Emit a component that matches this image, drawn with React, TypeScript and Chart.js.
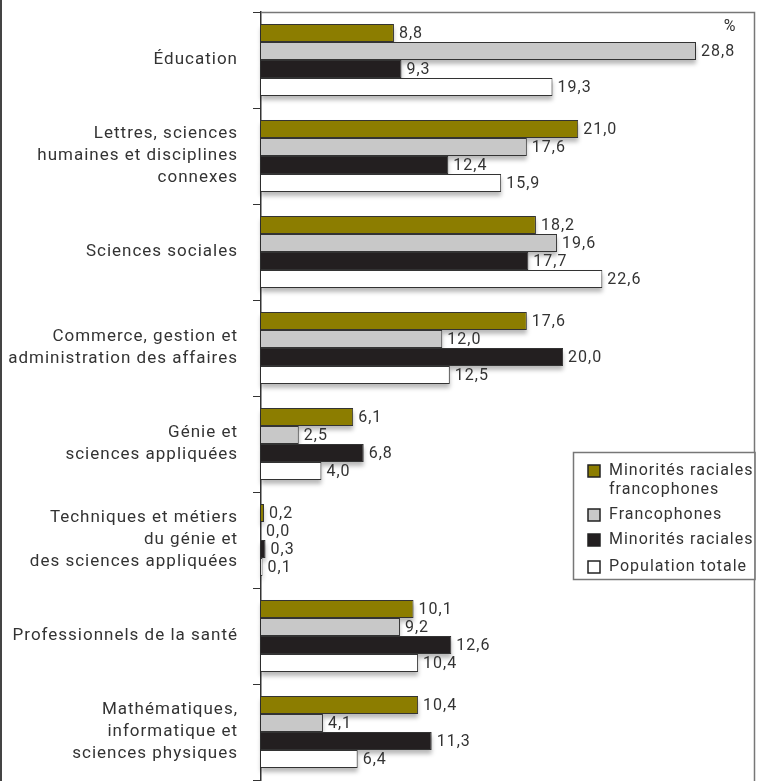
import React, { useEffect, useRef } from "react";
import { Chart, registerables } from "chart.js";

Chart.register(...registerables);

const categories: (string | string[])[] = [
  "Éducation",
  ["Lettres, sciences", "humaines et disciplines", "connexes"],
  "Sciences sociales",
  ["Commerce, gestion et", "administration des affaires"],
  ["Génie et", "sciences appliquées"],
  ["Techniques et métiers", "du génie et", "des sciences appliquées"],
  "Professionnels de la santé",
  ["Mathématiques,", "informatique et", "sciences physiques"],
];

const minoritesFrancophones = [8.8, 21.0, 18.2, 17.6, 6.1, 0.2, 10.1, 10.4];
const francophones = [28.8, 17.6, 19.6, 12.0, 2.5, 0.0, 9.2, 4.1];
const minoritesRaciales = [9.3, 12.4, 17.7, 20.0, 6.8, 0.3, 12.6, 11.3];
const populationTotale = [19.3, 15.9, 22.6, 12.5, 4.0, 0.1, 10.4, 6.4];

const seriesLabels = [
  ["Minorités raciales", "francophones"],
  ["Francophones"],
  ["Minorités raciales"],
  ["Population totale"],
];
const seriesColors = ["#8c7d00", "#c8c8c8", "#231f20", "#ffffff"];

const FONT = "Roboto, 'DejaVu Sans', sans-serif";
const TEXT = "#333333";
const SPACING = "1px";

const fmt = (v: number) => v.toFixed(1).replace(".", ",");

const spacingPlugin = {
  id: "spacing",
  beforeUpdate(chart: any) {
    chart.ctx.letterSpacing = SPACING;
  },
  beforeDraw(chart: any) {
    chart.ctx.letterSpacing = SPACING;
  },
};

const shadowPlugin = {
  id: "barShadow",
  beforeDatasetsDraw(chart: any) {
    const ctx = chart.ctx;
    ctx.save();
    ctx.filter = "blur(2px)";
    ctx.fillStyle = "rgba(0,0,0,0.28)";
    chart.data.datasets.forEach((_: any, di: number) => {
      const meta = chart.getDatasetMeta(di);
      meta.data.forEach((bar: any) => {
        const p = bar.getProps(["x", "y", "base", "height"], true);
        const w = p.x - p.base;
        if (w <= 0.5) return;
        ctx.fillRect(p.base, p.y - p.height / 2 + 4, w, p.height);
      });
    });
    ctx.restore();
  },
};

const labelPlugin = {
  id: "valueLabels",
  afterDatasetsDraw(chart: any) {
    const ctx = chart.ctx;
    ctx.save();
    ctx.letterSpacing = SPACING;
    ctx.font = `16px ${FONT}`;
    ctx.fillStyle = TEXT;
    ctx.textAlign = "left";
    ctx.textBaseline = "middle";
    chart.data.datasets.forEach((ds: any, di: number) => {
      const meta = chart.getDatasetMeta(di);
      meta.data.forEach((bar: any, i: number) => {
        const p = bar.getProps(["x", "y"], true);
        ctx.fillText(fmt(ds.data[i]), p.x + 5, p.y + 1);
      });
    });
    ctx.restore();
  },
};

const framePlugin = {
  id: "frame",
  afterDraw(chart: any) {
    const ctx = chart.ctx;
    const a = chart.chartArea;
    ctx.save();
    ctx.letterSpacing = SPACING;
    // outer left border
    ctx.strokeStyle = "#444";
    ctx.lineWidth = 2;
    ctx.beginPath();
    ctx.moveTo(1, 0);
    ctx.lineTo(1, chart.height);
    ctx.stroke();
    // plot frame top & right
    ctx.strokeStyle = "#777";
    ctx.lineWidth = 1.5;
    ctx.beginPath();
    ctx.moveTo(a.left, a.top + 0.5);
    ctx.lineTo(a.right + 0.5, a.top + 0.5);
    ctx.lineTo(a.right + 0.5, chart.height);
    ctx.stroke();

    // percent sign
    ctx.fillStyle = TEXT;
    ctx.font = `16px ${FONT}`;
    ctx.textAlign = "center";
    ctx.textBaseline = "middle";
    ctx.fillText("%", a.right - 24, a.top + 15);

    // legend
    const lx = 573, ly = 452, lw = a.right + 0.5 - 573, lh = 127;
    ctx.fillStyle = "#ffffff";
    ctx.fillRect(lx, ly, lw, lh);
    ctx.strokeStyle = "#777";
    ctx.lineWidth = 1.5;
    ctx.strokeRect(lx + 0.5, ly + 0.5, lw, lh);
    const rows = [471, 515, 540, 567];
    ctx.font = `16px ${FONT}`;
    ctx.textAlign = "left";
    seriesLabels.forEach((lines, i) => {
      const y = rows[i];
      ctx.fillStyle = seriesColors[i];
      ctx.fillRect(588, y - 6, 12, 12);
      ctx.strokeStyle = "#222";
      ctx.lineWidth = 1.5;
      ctx.strokeRect(588, y - 6, 12, 12);
      ctx.fillStyle = TEXT;
      lines.forEach((t, j) => ctx.fillText(t, 609, y + j * 19));
    });
    ctx.restore();
  },
};

export default function App() {
  const ref = useRef<HTMLCanvasElement | null>(null);

  useEffect(() => {
    if (!ref.current) return;
    const series = [minoritesFrancophones, francophones, minoritesRaciales, populationTotale];
    const chart = new Chart(ref.current, {
      type: "bar",
      data: {
        labels: categories,
        datasets: series.map((data, i) => ({
          label: seriesLabels[i].join(" "),
          data,
          backgroundColor: seriesColors[i],
          borderColor: "#333333",
          borderWidth: 1,
          barPercentage: 1,
          categoryPercentage: 0.75,
        })),
      },
      options: {
        indexAxis: "y",
        animation: false,
        responsive: false,
        maintainAspectRatio: false,
        layout: { padding: { top: 12, bottom: 1, left: 0, right: 4 } },
        plugins: {
          legend: { display: false },
          tooltip: { enabled: false },
        },
        scales: {
          x: {
            display: false,
            min: 0,
            max: 32.64,
          },
          y: {
            afterFit(scale: any) {
              scale.width = 261;
              scale.paddingTop = 0;
              scale.paddingBottom = 0;
            },
            grid: {
              offset: true,
              drawOnChartArea: false,
              drawTicks: true,
              tickLength: 8,
              color: "#333333",
              lineWidth: 1,
            },
            border: { display: true, color: "#333333", width: 1.5 },
            ticks: {
              color: TEXT,
              padding: 15,
              font: { family: FONT, size: 17, lineHeight: 1.3 },
            },
          },
        },
      },
      plugins: [spacingPlugin, shadowPlugin, labelPlugin, framePlugin],
    });
    return () => chart.destroy();
  }, []);

  return (
    <div style={{ position: "absolute", left: 0, top: 0, width: 758, height: 781, background: "#fff" }}>
      <canvas ref={ref} width={758} height={781} style={{ display: "block" }} />
    </div>
  );
}
